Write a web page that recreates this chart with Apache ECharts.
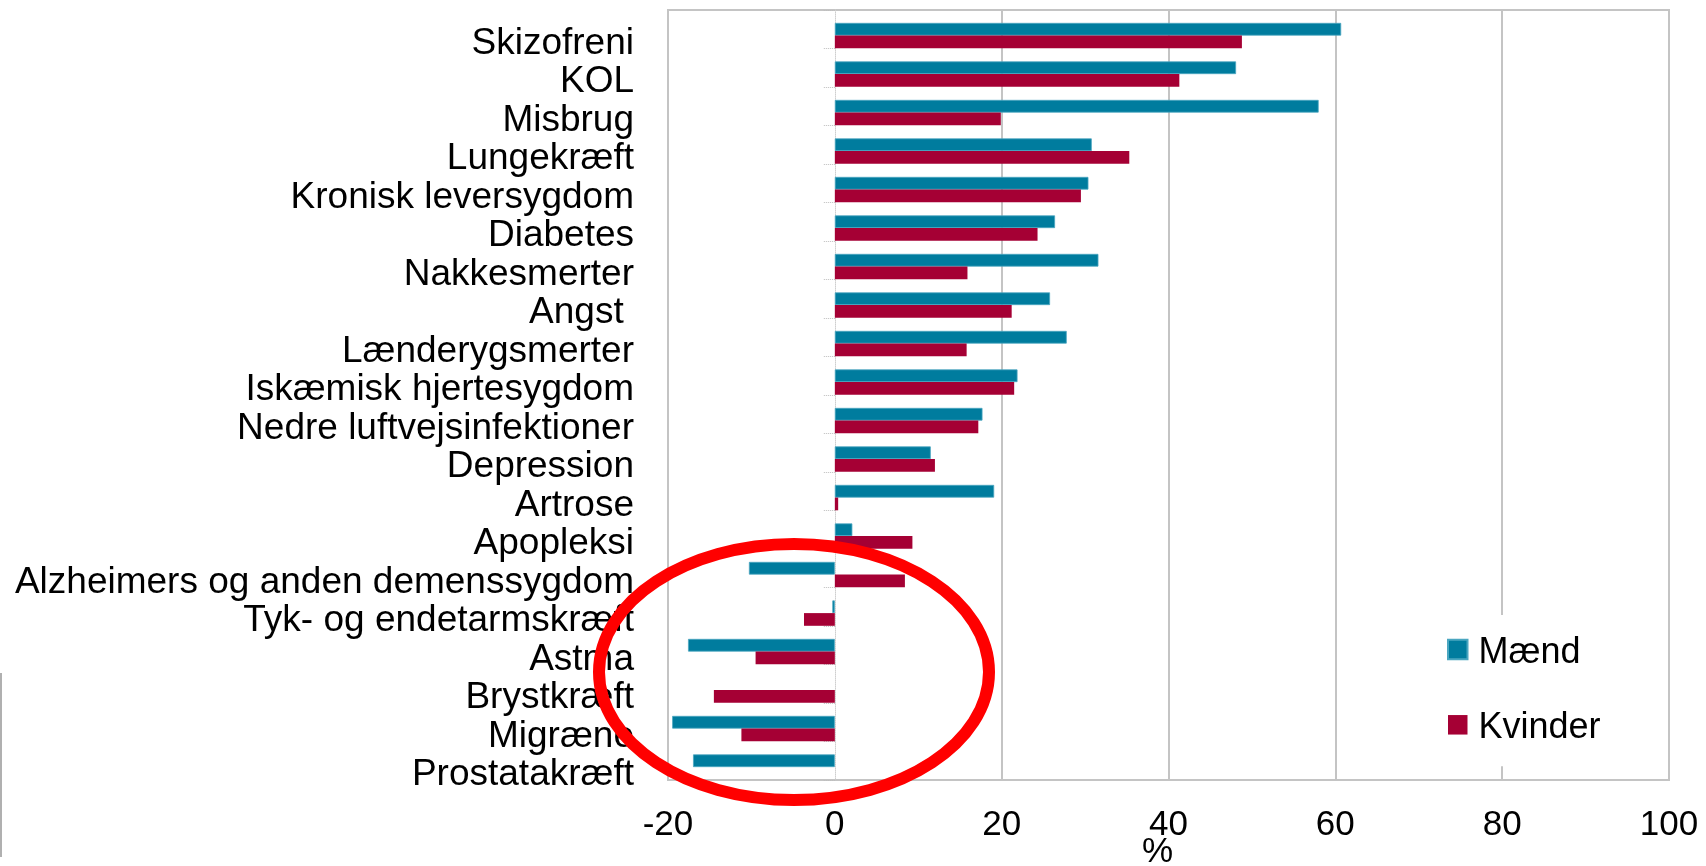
<!DOCTYPE html>
<html>
<head>
<meta charset="utf-8">
<script src="https://cdn.jsdelivr.net/npm/echarts@6/dist/echarts.min.js"></script>
<style>
html,body{margin:0;padding:0;background:#fff;}
#chart{width:1706px;height:866px;}
</style>
</head>
<body>
<div id="chart"></div>
<script>
const categories = ['Skizofreni','KOL','Misbrug','Lungekræft','Kronisk leversygdom','Diabetes','Nakkesmerter','Angst ','Lænderygsmerter','Iskæmisk hjertesygdom','Nedre luftvejsinfektioner','Depression','Artrose','Apopleksi','Alzheimers og anden demenssygdom','Tyk- og endetarmskræft','Astma','Brystkræft','Migræne','Prostatakræft'];
const maend   = [60.7, 48.1, 58.0, 30.8, 30.4, 26.4, 31.6, 25.8, 27.8, 21.9, 17.7, 11.5, 19.1, 2.1, -10.3, -0.3, -17.6, null, -19.5, -17.0];
const kvinder = [48.8, 41.3, 19.9, 35.3, 29.5, 24.3, 15.9, 21.2, 15.8, 21.5, 17.2, 12.0, 0.4, 9.3, 8.4, -3.7, -9.5, -14.5, -11.2, null];
const xTicks = {min: -20, max: 100, interval: 20};
const seriesNames = ['Mænd', 'Kvinder'];

const font = '"Liberation Sans", Arial, sans-serif';
const gridGray = '#c4c4c4';
const chart = echarts.init(document.getElementById('chart'), null, {renderer: 'canvas'});
chart.setOption({
  animation: false,
  backgroundColor: '#fff',
  grid: {left: 668, top: 10, width: 1001, height: 770, show: true, borderColor: gridGray, borderWidth: 2, backgroundColor: 'transparent', containLabel: false, outerBoundsMode: 'none'},
  legend: {
    data: seriesNames,
    orient: 'vertical',
    left: 1437, top: 615,
    padding: [20, 30, 20, 10],
    backgroundColor: '#fff',
    itemWidth: 19.5, itemHeight: 19.5,
    itemGap: 39.3,
    icon: 'rect',
    formatter: '{t|{name}}',
    textStyle: {fontFamily: font, fontSize: 36, color: '#000',
      rich: {t: {fontFamily: font, fontSize: 36, color: '#000', padding: [7, 0, 0, 6]}}}
  },
  xAxis: {
    type: 'value', min: xTicks.min, max: xTicks.max, interval: xTicks.interval,
    name: '%', nameLocation: 'middle', nameGap: 55, nameMoveOverlap: false,
    nameTextStyle: {fontFamily: font, fontSize: 35, color: '#000', padding: [0, 22, 0, 0]},
    axisLine: {show: false}, axisTick: {show: false},
    axisLabel: {fontFamily: font, fontSize: 35, color: '#000', margin: 28},
    splitLine: {show: true, lineStyle: {color: [gridGray, 'rgba(0,0,0,0)', gridGray, gridGray, gridGray, gridGray, gridGray], width: 2}}
  },
  yAxis: [{
    type: 'category', data: categories, inverse: true, position: 'left',
    axisLine: {show: false, onZero: false}, axisTick: {show: false},
    axisLabel: {interval: 0, fontFamily: font, fontSize: 37, color: '#000', margin: 34, verticalAlign: 'top', lineHeight: 29},
    splitLine: {show: false}
  }, {
    type: 'category', data: categories, inverse: true, position: 'right',
    axisLine: {show: true, onZero: true, lineStyle: {color: '#cfcfcf', width: 1, type: 'dotted'}},
    axisTick: {show: true, inside: true, length: 11, lineStyle: {color: '#bdbdbd', width: 1, type: 'dotted'}},
    axisLabel: {show: false}, splitLine: {show: false}
  }],
  series: [
    {name: '', type: 'bar', yAxisIndex: 0, data: categories.map(() => '-'), barWidth: 12.7, barGap: '0%', silent: true, itemStyle: {color: 'rgba(0,0,0,0)'}},
    {name: seriesNames[0], type: 'bar', yAxisIndex: 0, data: maend, barWidth: 12.7, barGap: '0%', itemStyle: {color: '#007c9e', borderColor: '#4aa6c0', borderWidth: 0.8}},
    {name: seriesNames[1], type: 'bar', yAxisIndex: 0, data: kvinder, barWidth: 12.7, barGap: '0%', itemStyle: {color: '#a50034'}}
  ],
  graphic: [
    {type: 'ellipse', z: 100, silent: true, shape: {cx: 794, cy: 672, rx: 195, ry: 128}, style: {fill: 'none', stroke: '#ff0000', lineWidth: 12}},
    {type: 'line', z: 100, silent: true, shape: {x1: 1, y1: 673, x2: 1, y2: 857}, style: {stroke: '#b0b0b0', lineWidth: 2}}
  ]
});
</script>
</body>
</html>
